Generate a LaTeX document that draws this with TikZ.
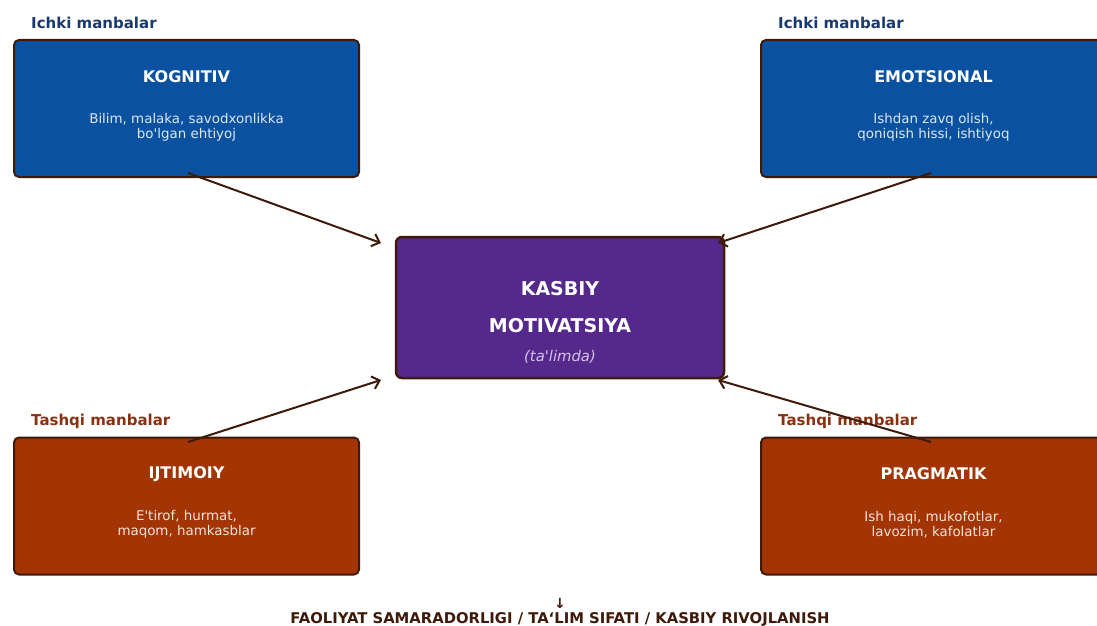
\documentclass[tikz,border=0pt]{standalone}
\usepackage{fontspec}
\setmainfont{DejaVu Sans}[Ligatures=TeXOff]
\usetikzlibrary{arrows.meta}
\definecolor{bluebox}{HTML}{0A52A0}
\definecolor{purplebox}{HTML}{55298C}
\definecolor{orangebox}{HTML}{A33505}
\definecolor{edgebrown}{HTML}{3D1A0A}
\definecolor{ichkicol}{HTML}{1A3A6E}
\definecolor{tashqicol}{HTML}{8B3010}
\definecolor{bluesub}{HTML}{DCE6F3}
\definecolor{orangesub}{HTML}{F6E2D6}
\definecolor{purplesub}{HTML}{D4C2EA}
\tikzset{
  srcbox/.style={draw=edgebrown, line width=2pt, rounded corners=5pt, minimum width=345pt, minimum height=137pt, inner sep=0pt},
  centerbox/.style={draw=edgebrown, line width=2.5pt, rounded corners=6pt, fill=purplebox, minimum width=328pt, minimum height=141pt, inner sep=0pt},
  boxtitle/.style={text=white, font=\fontsize{16}{19}\selectfont\bfseries, inner sep=0pt},
  boxsub/.style={font=\fontsize{13.4}{15}\selectfont, align=center, inner sep=0pt},
  grouplabel/.style={font=\fontsize{15}{17}\selectfont\bfseries, anchor=west, inner sep=0pt},
  conn/.style={draw=edgebrown, line width=2pt, -{Straight Barb[length=7pt,width=13pt,line width=2pt]}},
}
\begin{document}
\begin{tikzpicture}[x=1pt,y=-1pt]
\useasboundingbox[fill=white] (0,0) rectangle (1097,626);
% source boxes
\node[srcbox, fill=bluebox] (kog) at (186.5,108.5) {};
\node[srcbox, fill=bluebox] (emo) at (933.5,108.5) {};
\node[srcbox, fill=orangebox] (ijt) at (186.5,506) {};
\node[srcbox, fill=orangebox] (pra) at (933.5,506) {};
% center box
\node[centerbox] (mid) at (560,307.5) {};
% titles and descriptions
\node[boxtitle] (kogt) at (186.5,77) {KOGNITIV};
\node[boxsub, text=bluesub] (kogd) at (186.5,127) {Bilim, malaka, savodxonlikka\\bo'lgan ehtiyoj};
\node[boxtitle] (emot) at (933.5,77) {EMOTSIONAL};
\node[boxsub, text=bluesub] (emod) at (933.5,127) {Ishdan zavq olish,\\qoniqish hissi, ishtiyoq};
\node[boxtitle] (ijtt) at (186.5,474) {IJTIMOIY};
\node[boxsub, text=orangesub] (ijtd) at (186.5,524.5) {E'tirof, hurmat,\\maqom, hamkasblar};
\node[boxtitle] (prat) at (933.5,474) {PRAGMATIK};
\node[boxsub, text=orangesub] (prad) at (933.5,524.5) {Ish haqi, mukofotlar,\\lavozim, kafolatlar};
\node[text=white, font=\fontsize{19}{22}\selectfont\bfseries, inner sep=0pt] (midt1) at (560,289) {KASBIY};
\node[text=white, font=\fontsize{19}{22}\selectfont\bfseries, inner sep=0pt] (midt2) at (560,325.5) {MOTIVATSIYA};
\node[text=purplesub, font=\fontsize{14.8}{17}\selectfont\itshape, inner sep=0pt] (midt3) at (560,357) {(ta'limda)};
% group labels
\node[grouplabel, text=ichkicol] (l1) at (31,23) {Ichki manbalar};
\node[grouplabel, text=ichkicol] (l2) at (778,23) {Ichki manbalar};
\node[grouplabel, text=tashqicol] (l3) at (31,421) {Tashqi manbalar};
\node[grouplabel, text=tashqicol] (l4) at (778,421) {Tashqi manbalar};
% connector endpoints
\coordinate (kogo) at (188,173);
\coordinate (emoo) at (931,173);
\coordinate (ijto) at (188,442);
\coordinate (prao) at (931,442);
\coordinate (mnw) at (381,243);
\coordinate (mne) at (718,243);
\coordinate (msw) at (381,380);
\coordinate (mse) at (718,380);
\draw[conn] (kogo) -- (mnw);
\draw[conn] (emoo) -- (mne);
\draw[conn] (ijto) -- (msw);
\draw[conn] (prao) -- (mse);
% bottom
\node[text=edgebrown, font=\fontsize{14}{16}\selectfont\bfseries, inner sep=0pt] (down) at (560,603) {↓};
\node[text=edgebrown, font=\fontsize{14.8}{17}\selectfont\bfseries, inner sep=0pt] (result) at (560,619.5) {FAOLIYAT SAMARADORLIGI / TA‘LIM SIFATI / KASBIY RIVOJLANISH};
\end{tikzpicture}
\end{document}
